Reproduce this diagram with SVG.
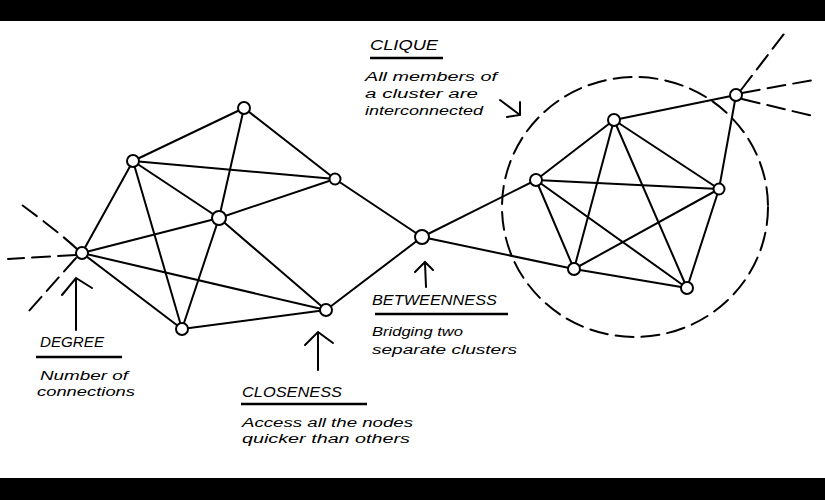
<svg xmlns="http://www.w3.org/2000/svg" width="825" height="500" viewBox="0 0 825 500">
<style>
.e{fill:none;stroke:#000;stroke-width:2;stroke-linecap:round}
.d{fill:none;stroke:#000;stroke-width:2;stroke-linecap:round;stroke-dasharray:18 8}
.n{fill:#fff;stroke:#000;stroke-width:2}
.h{font-family:"Liberation Sans",Arial,sans-serif;font-style:italic;font-size:14px;fill:#000}
.t{font-family:"Liberation Sans",Arial,sans-serif;font-style:italic;font-size:12.5px;fill:#000}
.u{stroke:#000;stroke-width:2.5}
</style>
<rect width="825" height="500" fill="#fff"/>
<rect x="0" y="0" width="825" height="21" fill="#000"/>
<rect x="0" y="478" width="825" height="22" fill="#000"/>
<g id="connectors">
<line class="e" x1="82" y1="253" x2="133" y2="161"/>
<line class="e" x1="82" y1="253" x2="219" y2="218"/>
<line class="e" x1="82" y1="253" x2="326" y2="310"/>
<line class="e" x1="82" y1="253" x2="182" y2="329"/>
<line class="e" x1="133" y1="161" x2="244" y2="108"/>
<line class="e" x1="133" y1="161" x2="335" y2="179"/>
<line class="e" x1="133" y1="161" x2="219" y2="218"/>
<line class="e" x1="133" y1="161" x2="182" y2="329"/>
<line class="e" x1="244" y1="108" x2="335" y2="179"/>
<line class="e" x1="244" y1="108" x2="219" y2="218"/>
<line class="e" x1="219" y1="218" x2="182" y2="329"/>
<line class="e" x1="219" y1="218" x2="335" y2="179"/>
<line class="e" x1="219" y1="218" x2="326" y2="310"/>
<line class="e" x1="182" y1="329" x2="326" y2="310"/>
<line class="e" x1="335" y1="179" x2="422" y2="237"/>
<line class="e" x1="326" y1="310" x2="422" y2="237"/>
<line class="e" x1="422" y1="237" x2="536" y2="180"/>
<line class="e" x1="422" y1="237" x2="574" y2="269"/>
<line class="e" x1="536" y1="180" x2="614" y2="120"/>
<line class="e" x1="536" y1="180" x2="719" y2="189"/>
<line class="e" x1="536" y1="180" x2="574" y2="269"/>
<line class="e" x1="536" y1="180" x2="687" y2="288"/>
<line class="e" x1="614" y1="120" x2="719" y2="189"/>
<line class="e" x1="614" y1="120" x2="574" y2="269"/>
<line class="e" x1="614" y1="120" x2="687" y2="288"/>
<line class="e" x1="719" y1="189" x2="574" y2="269"/>
<line class="e" x1="719" y1="189" x2="687" y2="288"/>
<line class="e" x1="574" y1="269" x2="687" y2="288"/>
<line class="e" x1="614" y1="120" x2="736" y2="95"/>
<line class="e" x1="719" y1="189" x2="736" y2="95"/>
<path class="d" d="M77 249 Q60 233 18 202"/>
<path class="d" d="M76 255 L8 259"/>
<path class="d" d="M76 258 L28 312"/>
<path class="d" d="M741 90 L787 30"/>
<path class="d" d="M742 93 L813 80"/>
<path class="d" d="M742 99 L817 117"/>
<ellipse class="d" cx="635" cy="207" rx="133" ry="130" stroke-dasharray="26 14"/>
</g>
<g id="nodes">
<circle id="n-a" class="n" cx="82" cy="253" r="6"/>
<circle id="n-b" class="n" cx="133" cy="161" r="6"/>
<circle id="n-c" class="n" cx="244" cy="108" r="6"/>
<circle id="n-d" class="n" cx="219" cy="218" r="7"/>
<circle id="n-e" class="n" cx="335" cy="179" r="5.5"/>
<circle id="n-f" class="n" cx="182" cy="329" r="6"/>
<circle id="n-g" class="n" cx="326" cy="310" r="6"/>
<circle id="n-h" class="n" cx="422" cy="237" r="7"/>
<circle id="n-i" class="n" cx="536" cy="180" r="6"/>
<circle id="n-j" class="n" cx="614" cy="120" r="6"/>
<circle id="n-k" class="n" cx="719" cy="189" r="5.5"/>
<circle id="n-l" class="n" cx="574" cy="269" r="6"/>
<circle id="n-m" class="n" cx="687" cy="288" r="6"/>
<circle id="n-n" class="n" cx="736" cy="95" r="6"/>
</g>
<g id="degree">
<path class="e" d="M76 278 L76 330 M62 295 L76 278 L92 288"/>
<text class="h" x="40" y="347" textLength="64" lengthAdjust="spacingAndGlyphs">DEGREE</text>
<line class="u" x1="36" y1="357" x2="122" y2="357"/>
<text class="t" x="40" y="380" textLength="88" lengthAdjust="spacingAndGlyphs">Number of</text>
<text class="t" x="37" y="396" textLength="98" lengthAdjust="spacingAndGlyphs">connections</text>
</g>
<g id="closeness">
<path class="e" d="M318 333 L318 370 M305 345 L318 332 L333 343"/>
<text class="h" x="242" y="397" textLength="100" lengthAdjust="spacingAndGlyphs">CLOSENESS</text>
<line class="u" x1="241" y1="404" x2="367" y2="404"/>
<text class="t" x="242" y="427" textLength="171" lengthAdjust="spacingAndGlyphs">Access all the nodes</text>
<text class="t" x="242" y="443" textLength="168" lengthAdjust="spacingAndGlyphs">quicker than others</text>
</g>
<g id="betweenness">
<path class="e" d="M425 263 L426 287 M415 272 L425 262 L433 270"/>
<text class="h" x="372" y="305" textLength="125" lengthAdjust="spacingAndGlyphs">BETWEENNESS</text>
<line class="u" x1="375" y1="314" x2="508" y2="314"/>
<text class="t" x="372" y="336" textLength="91" lengthAdjust="spacingAndGlyphs">Bridging two</text>
<text class="t" x="372" y="354" textLength="145" lengthAdjust="spacingAndGlyphs">separate clusters</text>
</g>
<g id="clique">
<text class="h" x="370" y="50" textLength="68" lengthAdjust="spacingAndGlyphs">CLIQUE</text>
<line class="u" x1="370" y1="58" x2="443" y2="58"/>
<text class="t" x="365" y="81" textLength="132" lengthAdjust="spacingAndGlyphs">All members of</text>
<text class="t" x="365" y="98" textLength="113" lengthAdjust="spacingAndGlyphs">a cluster are</text>
<text class="t" x="365" y="115" textLength="118" lengthAdjust="spacingAndGlyphs">interconnected</text>
<path class="e" d="M500 100 L520 115 M520 102 L520 115 L507 117"/>
</g>
</svg>
